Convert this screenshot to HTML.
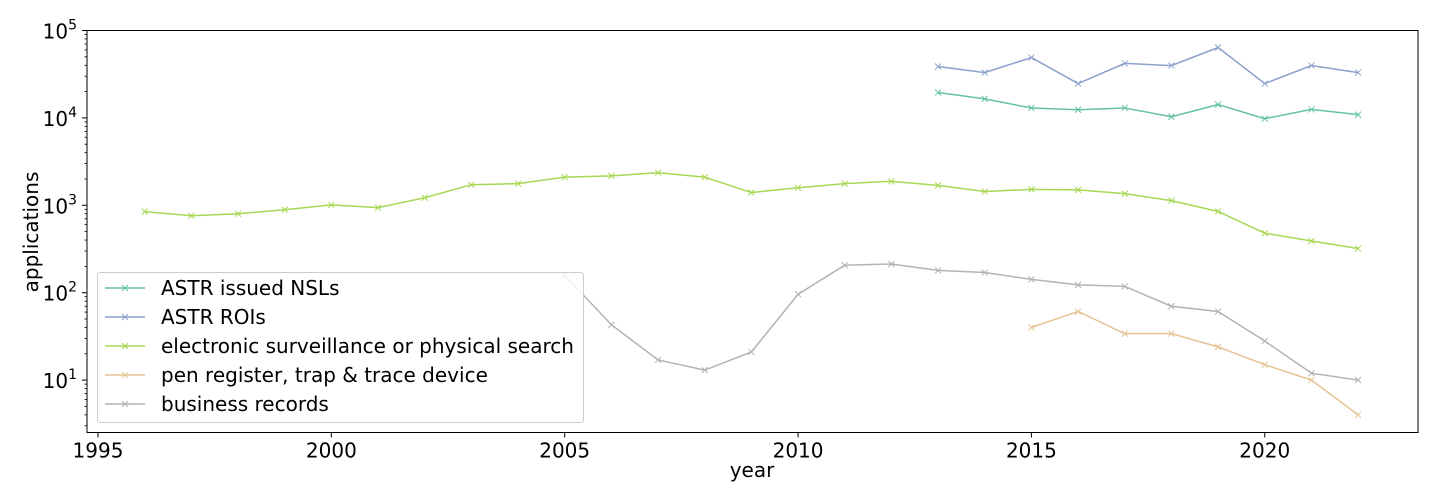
<!DOCTYPE html>
<html><head><meta charset="utf-8"><style>
html,body{margin:0;padding:0;background:#fff;}
svg{display:block;font-family:"DejaVu Sans","Liberation Sans",sans-serif;}
</style></head><body>
<svg id="chart" width="1440" height="504" viewBox="0 0 1440 504" xmlns="http://www.w3.org/2000/svg"></svg>
<script>
const nslYears=[2013,2014,2015,2016,2017,2018,2019,2020,2021,2022];
const nslVals=[19500,16500,13000,12400,13000,10300,14200,9800,12500,10900];
const roiYears=[2013,2014,2015,2016,2017,2018,2019,2020,2021,2022];
const roiVals=[38700,33000,49000,24700,42000,39700,63900,24700,39700,33000];
const esYears=[1996,1997,1998,1999,2000,2001,2002,2003,2004,2005,2006,2007,2008,2009,2010,2011,2012,2013,2014,2015,2016,2017,2018,2019,2020,2021,2022];
const esVals=[846,760,800,890,1010,940,1220,1720,1770,2100,2170,2360,2100,1400,1590,1770,1880,1690,1440,1520,1500,1360,1130,850,480,390,320];
const penYears=[2015,2016,2017,2018,2019,2020,2021,2022];
const penVals=[40,61,34,34,24,15,10,4];
const brYears=[2005,2006,2007,2008,2009,2010,2011,2012,2013,2014,2015,2016,2017,2018,2019,2020,2021,2022];
const brVals=[158,43,17,13,21,96,206,213,180,170,142,123,118,70,61,28,12,10];
const xTicks=[1995,2000,2005,2010,2015,2020];
const yTickExps=[1,2,3,4,5];
const seriesNames=["ASTR issued NSLs","ASTR ROIs","electronic surveillance or physical search","pen register, trap & trace device","business records"];

const L=87,R=1418,T=30.5,B=432.5;
const X=y=>98+(y-1995)*46.67;
const Y=v=>30.5+(5-Math.log10(v))*87.4;
const svg=document.getElementById('chart');
const NS='http://www.w3.org/2000/svg';
function mk(tag,attrs,parent){const e=document.createElementNS(NS,tag);for(const k in attrs)e.setAttribute(k,attrs[k]);(parent||svg).appendChild(e);return e;}

const frame=mk('rect',{x:L,y:T,width:R-L,height:B-T,fill:'none',stroke:'#000','stroke-width':1});



xTicks.forEach(t=>{
  const x=X(t);
  mk('line',{x1:x,x2:x,y1:B,y2:B+5,stroke:'#000'});
  const tx=mk('text',{x:x,y:B+25,'text-anchor':'middle','font-size':20,fill:'#000'});
  tx.textContent=t;
  
  
});
yTickExps.forEach(e=>{
  const y=Y(Math.pow(10,e));
  mk('line',{x1:L-5,x2:L,y1:y,y2:y,stroke:'#000'});
  const tx=mk('text',{x:L-10,y:y+8,'text-anchor':'end','font-size':20,fill:'#000'});
  tx.innerHTML='10<tspan dy="-9" font-size="14">'+e+'</tspan>';
  
  
});
for(let e=0;e<5;e++){for(let m=2;m<10;m++){const v=m*Math.pow(10,e);const y=Y(v);if(y<T||y>B)continue;mk('line',{x1:L-2.5,x2:L,y1:y,y2:y,stroke:'#000','stroke-width':0.8});}}

const xl=mk('text',{x:752,y:477,'text-anchor':'middle','font-size':20,fill:'#000'});xl.textContent='year';


const yl=mk('text',{x:0,y:0,'text-anchor':'middle','font-size':20,fill:'#000',transform:'translate(38,232) rotate(-90)'});yl.textContent='applications';



const colors=['#66c2a5','#8da0cb','#a6d854','#e5c494','#b3b3b3'];
const all=[[nslYears,nslVals],[roiYears,roiVals],[esYears,esVals],[penYears,penVals],[brYears,brVals]];
const sNames=['series-nsls','series-rois','series-surveillance','series-pen-register','series-business-records'];
all.forEach((s,i)=>{
  const g=mk('g',{});
  
  
  const pts=s[0].map((yr,j)=>X(yr)+','+Y(s[1][j])).join(' ');
  mk('polyline',{points:pts,fill:'none',stroke:colors[i],'stroke-width':1.5},g);
  s[0].forEach((yr,j)=>{const x=X(yr),y=Y(s[1][j]);
    mk('path',{d:`M${x-3},${y-3}L${x+3},${y+3}M${x-3},${y+3}L${x+3},${y-3}`,stroke:colors[i],'stroke-width':1},g);});
});

const lg=mk('g',{});


mk('rect',{x:97.5,y:272.5,width:486,height:150,rx:3,fill:'#fff','fill-opacity':0.8,stroke:'#ccc'},lg);
seriesNames.forEach((n,i)=>{
  const y=288+i*29;
  const e=mk('g',{},lg);
  
  
  mk('line',{x1:105,x2:145,y1:y,y2:y,stroke:colors[i],'stroke-width':1.5},e);
  mk('path',{d:`M122,${y-3}L128,${y+3}M122,${y+3}L128,${y-3}`,stroke:colors[i]},e);
  const t=mk('text',{x:161,y:y+7,'font-size':20,fill:'#000'},e);t.textContent=n;
});
</script>
</body></html>
